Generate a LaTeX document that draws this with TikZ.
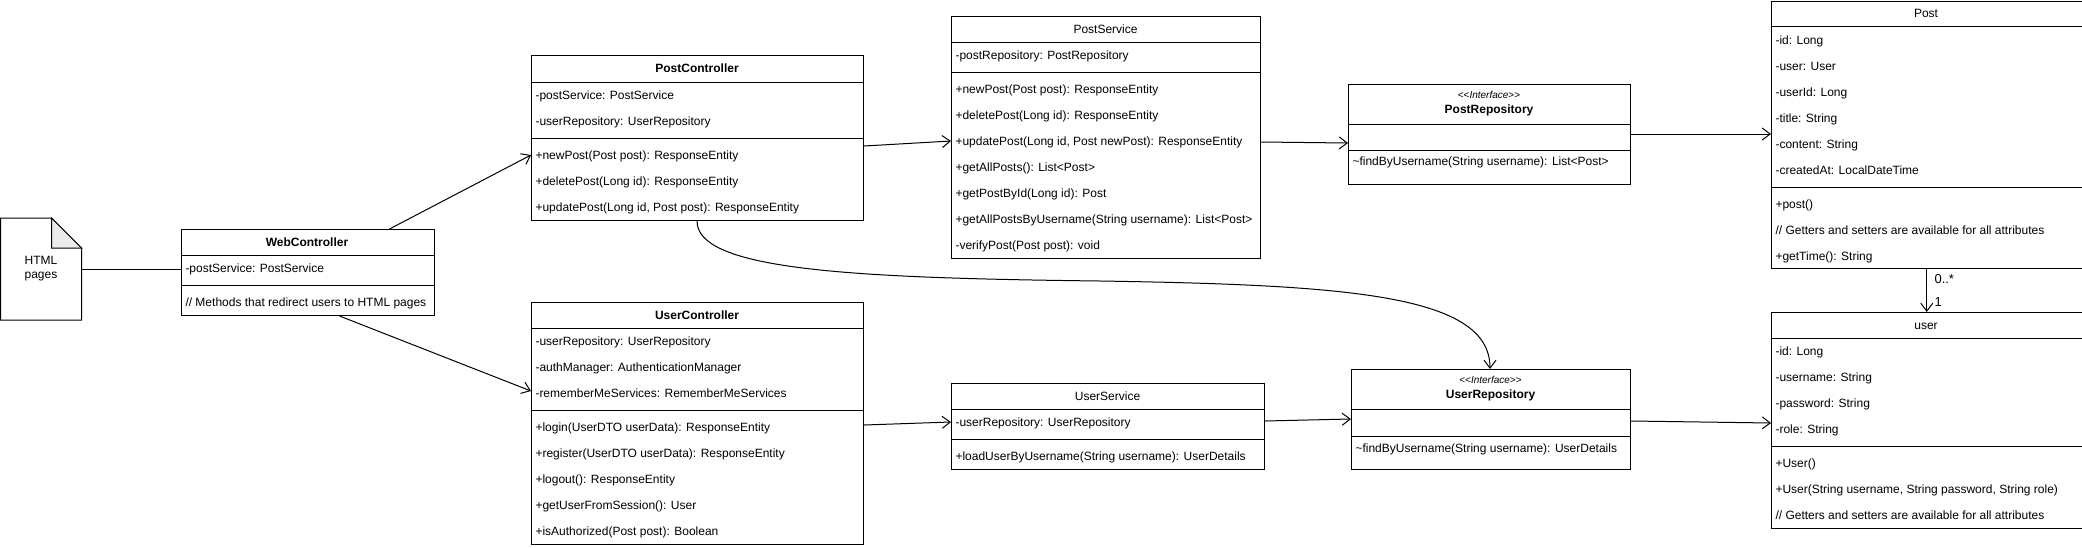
\documentclass[tikz,border=0pt]{standalone}
\usepackage{fontspec}
\setmainfont{Liberation Sans}
\usetikzlibrary{arrows.meta,calc}
\newcommand{\fsz}{\fontsize{12}{14}\selectfont}
\newcommand{\fst}{\fontsize{10}{12}\selectfont}
\newcommand{\fsl}{\fontsize{13}{15}\selectfont}
\begin{document}
\begin{tikzpicture}[x=1pt,y=-1pt,line width=1pt,
  cls/.style={draw,inner sep=0pt,anchor=north west},
  row/.style={anchor=west,inner sep=0pt,text height=10.5pt,text depth=2pt,font=\fsz},
  ttl/.style={anchor=center,inner sep=0pt,text height=10.5pt,text depth=2pt,font=\fsz},
  bttl/.style={ttl,font=\fsz\bfseries},
  ster/.style={anchor=center,inner sep=0pt,text height=8.5pt,text depth=2pt,font=\fst},
  lbl/.style={anchor=west,inner sep=0pt,font=\fsl},
  conn/.style={draw,line width=1pt,-{Straight Barb[length=8pt,width=12pt,line width=1pt]}},
  plain/.style={draw,line width=1pt}]
\useasboundingbox (0,0) rectangle (2082,547);

% ---------- HTML pages (note) ----------
\node[inner sep=0pt,anchor=north west,minimum width=80pt,minimum height=101pt,align=center,font=\fsz] (html) at (0.5,218) {HTML\\pages};
\draw (html.north west) -- ($(html.north east)+(-30,0)$) -- ($(html.north east)+(0,30)$) -- (html.south east) -- (html.south west) -- cycle;
\filldraw[fill=black!8] ($(html.north east)+(-30,0)$) -- ($(html.north east)+(-30,30)$) -- ($(html.north east)+(0,30)$) -- cycle;

% ---------- WebController ----------
\node[cls,minimum width=253.5pt,minimum height=86pt] (web) at (180.5,229) {};
\node[bttl] (webT) at (307,242) {WebController};
\draw (180.5,255) -- (434,255);
\node[row] (webA1) at (185,268) {-postService: PostService};
\draw (180.5,285) -- (434,285);
\node[row] (webM1) at (185,302) {// Methods that redirect users to HTML pages};

% ---------- PostController ----------
\node[cls,minimum width=332pt,minimum height=165pt] (pc) at (531,55) {};
\node[bttl] (pcT) at (697,68) {PostController};
\draw (531,82) -- (863,82);
\node[row] (pcA1) at (535,95) {-postService: PostService};
\node[row] (pcA2) at (535,121) {-userRepository: UserRepository};
\draw (531,138) -- (863,138);
\node[row] (pcM1) at (535,155) {+newPost(Post post): ResponseEntity};
\node[row] (pcM2) at (535,181) {+deletePost(Long id): ResponseEntity};
\node[row] (pcM3) at (535,207) {+updatePost(Long id, Post post): ResponseEntity};

% ---------- PostService ----------
\node[cls,minimum width=309pt,minimum height=242pt] (ps) at (951,16) {};
\node[ttl] (psT) at (1105.5,29) {PostService};
\draw (951,42) -- (1260,42);
\node[row] (psA1) at (955,55) {-postRepository: PostRepository};
\draw (951,72) -- (1260,72);
\node[row] (psM1) at (955,89) {+newPost(Post post): ResponseEntity};
\node[row] (psM2) at (955,115) {+deletePost(Long id): ResponseEntity};
\node[row] (psM3) at (955,141) {+updatePost(Long id, Post newPost): ResponseEntity};
\node[row] (psM4) at (955,167) {+getAllPosts(): List<Post>};
\node[row] (psM5) at (955,193) {+getPostById(Long id): Post};
\node[row] (psM6) at (955,219) {+getAllPostsByUsername(String username): List<Post>};
\node[row] (psM7) at (955,245) {-verifyPost(Post post): void};

% ---------- PostRepository ----------
\node[cls,minimum width=282pt,minimum height=100pt] (pr) at (1348,84) {};
\node[ster] (prS) at (1489,95) {<{}<\textit{Interface}>{}>};
\node[bttl] (prT) at (1489,109) {PostRepository};
\draw (1348,124) -- (1630,124);
\draw (1348,150) -- (1630,150);
\node[row] (prM1) at (1352,161) {\textasciitilde findByUsername(String username): List<Post>};

% ---------- Post ----------
\node[cls,minimum width=310.5pt,minimum height=267.5pt] (post) at (1771,0.5) {};
\node[ttl] (postT) at (1926,13) {Post};
\draw (1771,26) -- (2081.5,26);
\node[row] (postA1) at (1775,40) {-id: Long};
\node[row] (postA2) at (1775,66) {-user: User};
\node[row] (postA3) at (1775,92) {-userId: Long};
\node[row] (postA4) at (1775,118) {-title: String};
\node[row] (postA5) at (1775,144) {-content: String};
\node[row] (postA6) at (1775,170) {-createdAt: LocalDateTime};
\draw (1771,187) -- (2081.5,187);
\node[row] (postM1) at (1775,204) {+post()};
\node[row] (postM2) at (1775,230) {// Getters and setters are available for all attributes};
\node[row] (postM3) at (1775,256) {+getTime(): String};

% ---------- user ----------
\node[cls,minimum width=310.5pt,minimum height=216pt] (usr) at (1771,312) {};
\node[ttl] (usrT) at (1926,325) {user};
\draw (1771,338) -- (2081.5,338);
\node[row] (usrA1) at (1775,351) {-id: Long};
\node[row] (usrA2) at (1775,377) {-username: String};
\node[row] (usrA3) at (1775,403) {-password: String};
\node[row] (usrA4) at (1775,429) {-role: String};
\draw (1771,446) -- (2081.5,446);
\node[row] (usrM1) at (1775,463) {+User()};
\node[row] (usrM2) at (1775,489) {+User(String username, String password, String role)};
\node[row] (usrM3) at (1775,515) {// Getters and setters are available for all attributes};

% ---------- UserController ----------
\node[cls,minimum width=332pt,minimum height=242pt] (uc) at (531,302) {};
\node[bttl] (ucT) at (697,315) {UserController};
\draw (531,328) -- (863,328);
\node[row] (ucA1) at (535,341) {-userRepository: UserRepository};
\node[row] (ucA2) at (535,367) {-authManager: AuthenticationManager};
\node[row] (ucA3) at (535,393) {-rememberMeServices: RememberMeServices};
\draw (531,410) -- (863,410);
\node[row] (ucM1) at (535,427) {+login(UserDTO userData): ResponseEntity};
\node[row] (ucM2) at (535,453) {+register(UserDTO userData): ResponseEntity};
\node[row] (ucM3) at (535,479) {+logout(): ResponseEntity};
\node[row] (ucM4) at (535,505) {+getUserFromSession(): User};
\node[row] (ucM5) at (535,531) {+isAuthorized(Post post): Boolean};

% ---------- UserService ----------
\node[cls,minimum width=313pt,minimum height=86pt] (us) at (951,383) {};
\node[ttl] (usT) at (1107.5,396) {UserService};
\draw (951,409) -- (1264,409);
\node[row] (usA1) at (955,422) {-userRepository: UserRepository};
\draw (951,439) -- (1264,439);
\node[row] (usM1) at (955,456) {+loadUserByUsername(String username): UserDetails};

% ---------- UserRepository ----------
\node[cls,minimum width=279pt,minimum height=100pt] (ur) at (1351,369) {};
\node[ster] (urS) at (1490.5,380) {<{}<\textit{Interface}>{}>};
\node[bttl] (urT) at (1490.5,394) {UserRepository};
\draw (1351,409) -- (1630,409);
\draw (1351,436) -- (1630,436);
\node[row] (urM1) at (1355,448) {\textasciitilde findByUsername(String username): UserDetails};

% ---------- connectors ----------
\draw[plain] (html.east) -- (html.east -| web.west);
\draw[conn] ($(web.north west)+(209,0)$) -- ($(pc.north west)+(0,100)$);
\draw[conn] ($(web.south west)+(159,0)$) -- ($(uc.north west)+(0,89)$);
\draw[conn] ($(pc.north east)+(0,91)$) -- ($(ps.north west)+(0,125)$);
\draw[conn] ($(ps.north east)+(0,126)$) -- ($(pr.north west)+(0,59)$);
\draw[conn] ($(pr.north east)+(0,50)$) -- ($(post.north west)+(0,133.5)$);
\draw[conn] ($(pc.south west)+(166,0)$) .. controls (697,270) and (850,278) .. (1100,281)
  .. controls (1350,285) and (1490,295) .. ($(ur.north west)+(139,0)$);
\draw[conn] ($(uc.north east)+(0,123)$) -- ($(us.north west)+(0,39)$);
\draw[conn] ($(us.north east)+(0,38)$) -- ($(ur.north west)+(0,50)$);
\draw[conn] ($(ur.north east)+(0,52)$) -- ($(usr.north west)+(0,111)$);
\draw[conn] (post.south) -- (usr.north);
\node[lbl] (mult1) at (1934,279) {0..*};
\node[lbl] (mult2) at (1934,302) {1};
\end{tikzpicture}
\end{document}
